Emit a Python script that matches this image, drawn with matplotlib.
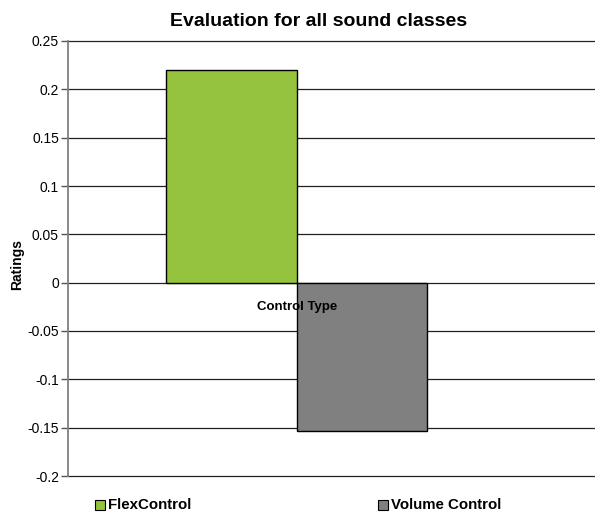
import matplotlib.pyplot as plt
from matplotlib.lines import Line2D

plt.rcParams['font.family'] = ['Liberation Sans', 'DejaVu Sans']

# data
controls = ['FlexControl', 'Volume Control']
ratings = [0.22, -0.153]
colors = ['#95C33D', '#808080']
yticks = [-0.2, -0.15, -0.1, -0.05, 0, 0.05, 0.1, 0.15, 0.2, 0.25]
ytick_labels = ['-0.2', '-0.15', '-0.1', '-0.05', '0', '0.05', '0.1', '0.15', '0.2', '0.25']

fig = plt.figure(figsize=(5.95, 5.12), dpi=100)
ax = fig.add_axes([68/595, 36/512, 526/595, 435/512])

xpos = list(range(len(controls)))
ax.bar(xpos, ratings, width=1.0, color=colors, edgecolor='black', linewidth=1.0, zorder=3)

ax.set_xlim(-0.5 - 98/130.5, 1.5 + 167/130.5)
ax.set_ylim(-0.2, 0.25)
ax.set_yticks(yticks)
ax.set_yticklabels(ytick_labels, fontsize=10)
ax.set_xticks([])
# gridlines drawn by hand so the bottom one is not clipped
for t in yticks:
	ax.axhline(t, color='#222222', linewidth=0.9, zorder=1, clip_on=False)
for s in ['top', 'right', 'bottom']:
	ax.spines[s].set_visible(False)
ax.spines['left'].set_color('#808080')
ax.spines['left'].set_linewidth(1.3)
ax.tick_params(axis='y', length=5, width=1, color='#555555', pad=1.5)

fig.text(319/595, 490/512, 'Evaluation for all sound classes', fontsize=14, fontweight='bold',
	ha='center', va='center')
fig.text(17/595, 0.484, 'Ratings', fontsize=10, fontweight='bold', rotation=90, ha='center', va='center')
ax.text(0.435, 0.3885, 'Control Type', fontsize=9.5, fontweight='bold', ha='center', va='center',
	transform=ax.transAxes, zorder=4)

# legend entries at the bottom
for x, name, c in [(100/595, controls[0], colors[0]), (383/595, controls[1], colors[1])]:
	fig.add_artist(Line2D([x], [7/512], marker='s', markersize=7, markerfacecolor=c,
		markeredgecolor='black', markeredgewidth=0.8, linestyle='none', transform=fig.transFigure))
	fig.text(x + 8/595, 7/512, name, fontsize=10.8, fontweight='bold', va='center', ha='left')

fig.savefig('out.png', dpi=100)
